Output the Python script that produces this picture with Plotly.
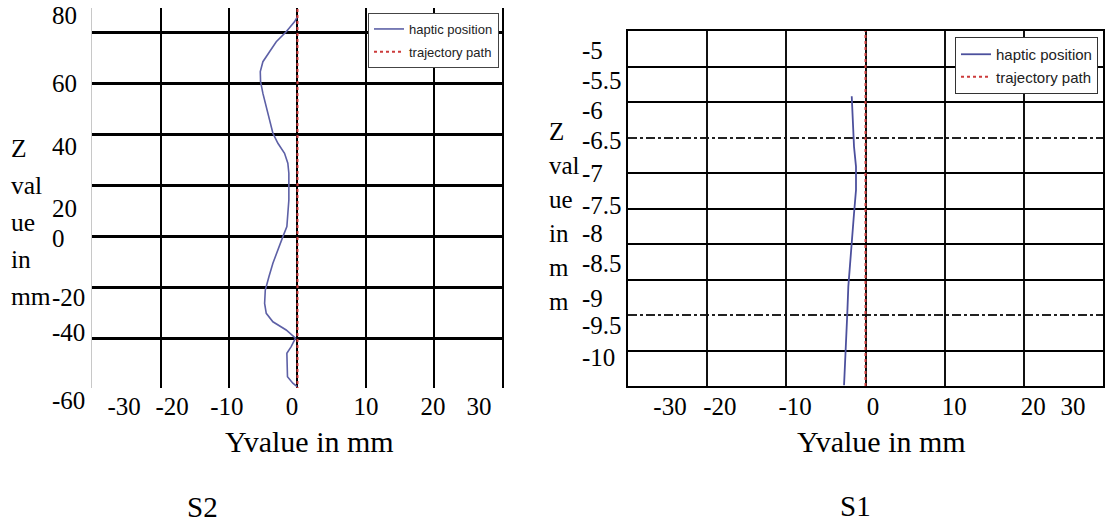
import plotly.graph_objects as go

W, H = 1107, 527

# ---- data: panel S2 (left) ----
s2_haptic_y = [0.0, -0.44, -1.65, -3.1, -4.08, -5.05, -5.43, -5.39, -5.05, -4.56, -4.08, -3.59,
               -2.86, -1.89, -1.41, -1.26, -1.26, -1.41, -1.55, -2.13, -2.86, -3.59, -4.17,
               -4.7, -4.8, -4.56, -3.59, -1.65, -0.29, -0.92, -1.55, -1.55, -1.46, -0.68, -0.05]
s2_haptic_z = [86.0, 84.0, 80.1, 76.2, 72.3, 68.4, 64.5, 60.6, 56.0, 50.8, 45.6, 40.4,
               36.5, 32.6, 28.7, 24.8, 14.3, 9.1, 3.9, 0.0, -5.2, -10.4, -15.7,
               -20.9, -26.1, -30.0, -33.3, -36.5, -39.7, -43.0, -45.6, -49.5, -54.8, -57.3, -58.7]
s2_path_y = [0, 0]
s2_path_z = [-60, 90]
s2_x_ticks = ["-30", "-20", "-10", "0", "10", "20", "30"]
s2_z_ticks = ["80", "60", "40", "20", "0", "-20", "-40", "-60"]

# ---- data: panel S1 (right) ----
s1_haptic_y = [-1.74, -1.62, -1.45, -1.2, -1.2, -1.45, -1.70, -1.96, -2.17, -2.3, -2.46, -2.67, -2.71]
s1_haptic_z = [-5.92, -6.35, -6.63, -6.91, -7.24, -7.57, -7.94, -8.32, -8.60, -8.98, -9.35, -9.73, -9.99]
s1_path_y = [0, 0]
s1_path_z = [-10, -5]
s1_x_ticks = ["-30", "-20", "-10", "0", "10", "20", "30"]
s1_z_ticks = ["-5", "-5.5", "-6", "-6.5", "-7", "-7.5", "-8", "-8.5", "-9", "-9.5", "-10"]

# ---- layout constants ----
S2_XRANGE, S2_ZRANGE = [-30, 30.15], [-59.2, 89.4]
S1_XRANGE, S1_ZRANGE = [-30, 30], [-10, -5]
S2_XGRID = [-20, -10, 0, 10, 20, 30]
S2_ZGRID = [-40, -20, 0, 20, 40, 60, 80]
S1_XGRID = [-20, -10, 0, 10, 20]
S1_ZGRID = [-5.5, -6, -7, -7.5, -8, -8.5, -9.5]
S1_ZGRID_DASH = [-6.5, -9]
# where the (scanned, slightly shifted) tick labels sit, in axis units
S2_XLAB_AT = [-25.3, -18.3, -10.3, -0.8, 10.0, 19.8, 26.5]
S2_ZLAB_AT = [86.6, 60.1, 35.4, 11.2, -0.5, -23.6, -37.3, -63.8]
S1_XLAB_AT = [-24.7, -18.4, -8.9, 0.95, 11.2, 21.2, 26.2]
S1_ZLAB_AT = [-5.27, -5.69, -6.11, -6.54, -7.0, -7.45, -7.85, -8.27, -8.76, -9.14, -9.59]


def px_x(p):
    return p / W


def px_y(p):
    return (H - p) / H


S2_XDOM = [px_x(92), px_x(504)]
S2_ZDOM = [px_y(388), px_y(8)]
S1_XDOM = [px_x(628), px_x(1103)]
S1_ZDOM = [px_y(386), px_y(31)]


def full_range(rng, dom):
    span = (rng[1] - rng[0]) / (dom[1] - dom[0])
    return [rng[0] - dom[0] * span, rng[0] + (1 - dom[0]) * span]


SERIF = "Liberation Serif, Times New Roman, serif"
SANS = "Liberation Sans, Arial, sans-serif"
TICKFONT = dict(family=SERIF, size=25, color="black")
BLUE_L, BLUE_R, RED = "#5d60a6", "#4c509d", "#cc3b3b"

fig = go.Figure()

# left panel
fig.add_trace(go.Scatter(x=s2_haptic_y, y=s2_haptic_z, mode="lines", name="haptic position",
                         line=dict(color=BLUE_L, width=1.6), xaxis="x", yaxis="y",
                         legend="legend", legendgroup="a"))
fig.add_trace(go.Scatter(x=s2_path_y, y=s2_path_z, mode="lines", name="trajectory path",
                         line=dict(color=RED, width=2, dash="dot"), xaxis="x", yaxis="y",
                         legend="legend", legendgroup="b"))
# right panel
fig.add_trace(go.Scatter(x=s1_haptic_y, y=s1_haptic_z, mode="lines", name="haptic position",
                         line=dict(color=BLUE_R, width=1.8), xaxis="x2", yaxis="y2",
                         legend="legend2", legendgroup="c"))
fig.add_trace(go.Scatter(x=s1_path_y, y=s1_path_z, mode="lines", name="trajectory path",
                         line=dict(color=RED, width=2, dash="dot"), xaxis="x2", yaxis="y2",
                         legend="legend2", legendgroup="d"))
# carriers for the tick-label axes
fig.add_trace(go.Scatter(x=[], y=[], xaxis="x3", yaxis="y3", showlegend=False, hoverinfo="skip"))
fig.add_trace(go.Scatter(x=[], y=[], xaxis="x4", yaxis="y4", showlegend=False, hoverinfo="skip"))

grid_axis = dict(showticklabels=False, ticks="", zeroline=False, tickmode="array")
label_axis = dict(showgrid=False, zeroline=False, showline=False, ticks="", tickmode="array",
                  tickfont=TICKFONT, anchor="free", domain=[0, 1], tickangle=0)

fig.update_layout(
    width=W, height=H, autosize=False,
    margin=dict(l=0, r=0, t=0, b=0),
    paper_bgcolor="white", plot_bgcolor="rgba(0,0,0,0)",
    xaxis=dict(grid_axis, domain=S2_XDOM, range=S2_XRANGE, anchor="y", tickvals=S2_XGRID,
               showgrid=True, gridcolor="black", gridwidth=2, showline=False),
    yaxis=dict(grid_axis, domain=S2_ZDOM, range=S2_ZRANGE, anchor="x", tickvals=S2_ZGRID,
               showgrid=True, gridcolor="black", gridwidth=2.5,
               showline=True, linecolor="#c8c8c8", linewidth=1),
    xaxis2=dict(grid_axis, domain=S1_XDOM, range=S1_XRANGE, anchor="y2", tickvals=S1_XGRID,
                showgrid=True, gridcolor="#111", gridwidth=1.8,
                showline=True, mirror=True, linecolor="black", linewidth=2),
    yaxis2=dict(grid_axis, domain=S1_ZDOM, range=S1_ZRANGE, anchor="x2", tickvals=S1_ZGRID,
                showgrid=True, gridcolor="black", gridwidth=2.2,
                showline=True, mirror=True, linecolor="black", linewidth=2,
                minor=dict(tickmode="array", tickvals=S1_ZGRID_DASH, showgrid=True,
                           gridcolor="#222", gridwidth=1.6, griddash="dashdot", ticks="")),
    xaxis3=dict(label_axis, range=full_range(S2_XRANGE, S2_XDOM), position=px_y(389),
                side="bottom", tickvals=S2_XLAB_AT, ticktext=s2_x_ticks),
    yaxis3=dict(label_axis, range=full_range(S2_ZRANGE, S2_ZDOM), position=px_x(51),
                side="right", tickvals=S2_ZLAB_AT, ticktext=s2_z_ticks),
    xaxis4=dict(label_axis, range=full_range(S1_XRANGE, S1_XDOM), position=px_y(389),
                side="bottom", tickvals=S1_XLAB_AT, ticktext=s1_x_ticks),
    yaxis4=dict(label_axis, range=full_range(S1_ZRANGE, S1_ZDOM), position=px_x(581),
                side="right", tickvals=S1_ZLAB_AT, ticktext=s1_z_ticks),
    legend=dict(x=px_x(499), y=px_y(13), xanchor="right", yanchor="top",
                bgcolor="white", bordercolor="#444", borderwidth=1, tracegroupgap=3,
                font=dict(family=SANS, size=13, color="#222")),
    legend2=dict(x=px_x(1098), y=px_y(37), xanchor="right", yanchor="top",
                 bgcolor="white", bordercolor="#333", borderwidth=1, tracegroupgap=0,
                 font=dict(family=SANS, size=15, color="#222")),
    showlegend=True,
)

left_title = ["Z", "val", "ue", "in", "mm"]
right_title = ["Z", "val", "ue", "in", "m", "m"]


def stacked(lines, size):
    return "<br>".join(f"<span style='font-size:{size}px'>{s}</span>" for s in lines)


notes = [
    dict(text=stacked(left_title, 25.5), x=px_x(9), y=px_y(222), xanchor="left",
         yanchor="middle", align="left", font=dict(family=SERIF, size=28.5, color="black")),
    dict(text=stacked(right_title, 25), x=px_x(547), y=px_y(216), xanchor="left",
         yanchor="middle", align="left", font=dict(family=SERIF, size=26.2, color="black")),
    dict(text="Yvalue in mm", x=px_x(309), y=px_y(441), xanchor="center", yanchor="middle",
         font=dict(family=SERIF, size=30, color="black")),
    dict(text="Yvalue in mm", x=px_x(881), y=px_y(441), xanchor="center", yanchor="middle",
         font=dict(family=SERIF, size=30, color="black")),
    dict(text="S2", x=px_x(202), y=px_y(507), xanchor="center", yanchor="middle",
         font=dict(family=SERIF, size=29, color="black")),
    dict(text="S1", x=px_x(855), y=px_y(506), xanchor="center", yanchor="middle",
         font=dict(family=SERIF, size=29, color="black")),
]
for n in notes:
    fig.add_annotation(xref="paper", yref="paper", showarrow=False, **n)

# the page is photographed at exactly the figure size, so drop the default body margin
fig.write_html("out.html", config={"displayModeBar": False},
               post_script="document.body.style.margin='0px';")
